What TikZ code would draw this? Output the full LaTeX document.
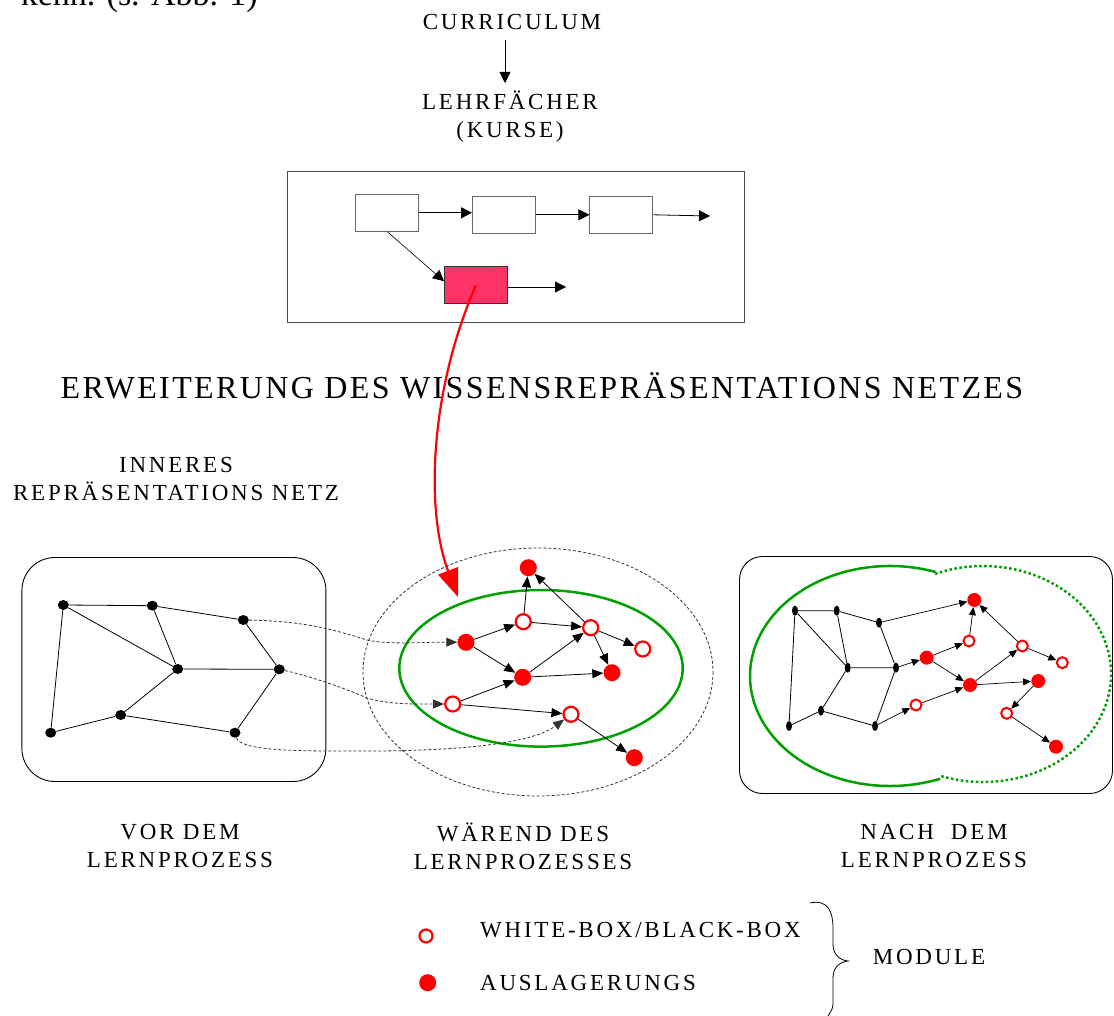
\documentclass[tikz,border=0pt]{standalone}
\usepackage{fontspec}
\setmainfont{Liberation Serif}
\newfontfamily\spacedfont[LetterSpace=12]{Liberation Serif}
\newfontfamily\headfont[LetterSpace=7.5]{Liberation Serif}
\usetikzlibrary{arrows.meta,shapes.geometric}
\definecolor{pinkbox}{HTML}{FF3366}
\definecolor{netgreen}{HTML}{00A000}
\definecolor{netred}{HTML}{FF0000}
\definecolor{dgray}{HTML}{333333}
\begin{document}
\begin{tikzpicture}[x=1pt,y=-1pt,
  lbl/.style={font=\spacedfont\fontsize{23}{28}\selectfont, inner sep=0pt, align=center},
  headlbl/.style={font=\headfont\fontsize{32}{38}\selectfont, inner sep=0pt},
  thinline/.style={line width=0.8pt},
  arrbig/.style={-{Triangle[length=11pt,width=11pt]}, line width=0.8pt},
  arrmid/.style={-{Triangle[length=11pt,width=9pt]}, line width=0.8pt},
  arrsm/.style={-{Triangle[length=8pt,width=7pt]}, line width=0.7pt},
  bdot/.style={ellipse, fill=black, minimum width=11pt, minimum height=10pt, inner sep=0pt},
  bdotn/.style={ellipse, fill=black, minimum width=6pt, minimum height=10pt, inner sep=0pt},
  fdot/.style={circle, fill=netred, minimum size=17pt, inner sep=0pt},
  odot/.style={circle, draw=netred, line width=2.2pt, fill=white, minimum size=15pt, inner sep=0pt},
  fdots/.style={circle, fill=netred, minimum size=14pt, inner sep=0pt},
  odots/.style={circle, draw=netred, line width=2pt, fill=white, minimum size=11pt, inner sep=0pt},
  dconn/.style={dgray, line width=0.8pt, dash pattern=on 3pt off 2pt},
  cbox/.style={draw=black!60, line width=1pt, fill=white, minimum width=63pt, minimum height=37pt, inner sep=0pt},
  dtip/.style={-{Triangle[length=11pt,width=9pt]}}
]
\useasboundingbox (0,0) rectangle (1114,1016);

% cut-off line of preceding text
\node[anchor=base east, font=\fontsize{34}{40}\selectfont, inner sep=0pt] (prev) at (258,6) {kenn. (s. Abb. 1)};

% top part
\node[lbl] (cur) at (512,22) {CURRICULUM};
\coordinate (ca) at (505,40);
\coordinate (cb) at (505,83);
\draw[arrbig] (ca) -- (cb);
\node[lbl] (lehr) at (510,117) {LEHRFÄCHER\\(KURSE)};

\node[draw=black!70, line width=1pt, minimum width=457pt, minimum height=151pt, inner sep=0pt] (frame) at (515.5,247.5) {};
\node[cbox] (k1) at (387.4,212.8) {};
\node[cbox] (k2) at (504,214.8) {};
\node[cbox] (k3) at (621.4,214.8) {};
\node[cbox, fill=pinkbox, draw=black!80] (k4) at (476,285.2) {};
\coordinate (k3e) at (710,216);
\coordinate (k4e) at (566,287);
\draw[arrbig] (k1.east) -- (k1.east -| k2.west);
\draw[arrbig] (k2.east) -- (k2.east -| k3.west);
\draw[arrbig] (k3.east) -- (k3e);
\draw[arrbig] (k4.east |- k4e) -- (k4e);
\draw[arrbig, line width=0.6pt] (k1.south) -- ([yshift=4pt]k4.west);

% heading
\node[headlbl, anchor=base] (head) at (542,398) {ERWEITERUNG DES WISSENSREPRÄSENTATIONS NETZES};

% red arrow
\coordinate (redtip) at (458,597);
\draw[netred, line width=2.2pt, -{Triangle[length=28pt,width=21pt]}] (k4.center) .. controls (430,390) and (425,510) .. (redtip);

\node[lbl] (inner) at (176,479) {INNERES\\REPRÄSENTATIONS NETZ};

% left network
\node[draw, line width=0.9pt, rounded corners=33pt, minimum width=304pt, minimum height=224pt, inner sep=0pt] (lbox) at (173.9,669.5) {};
\node[bdot] (A) at (63.3,605) {};
\node[bdot] (B) at (152.3,605.7) {};
\node[bdot] (C) at (243.3,620) {};
\node[bdot] (D) at (177.7,669) {};
\node[bdot] (E) at (279.3,669.3) {};
\node[bdot] (F) at (120.7,715) {};
\node[bdot] (G) at (50.7,732.7) {};
\node[bdot] (H) at (235,732.7) {};
\draw[thinline] (A)--(B) (A)--(D) (A)--(G) (B)--(D) (B)--(C) (C)--(E) (D)--(E) (D)--(F) (F)--(G) (F)--(H) (H)--(E);

% middle network
\draw[dconn] (538,672) ellipse [x radius=175, y radius=124];
\draw[netgreen, line width=2.5pt] (541,668.3) ellipse [x radius=141.7, y radius=78.3];
\node[fdot] (m1) at (528.3,567.7) {};
\node[odot] (m2) at (523.3,621.7) {};
\node[odot] (m3) at (590.7,627.7) {};
\node[fdot] (m4) at (466,642.3) {};
\node[odot] (m5) at (642.7,649) {};
\node[fdot] (m6) at (522.7,677.3) {};
\node[fdot] (m7) at (612,672.7) {};
\node[odot] (m8) at (452.7,704) {};
\node[odot] (m9) at (571,714.3) {};
\node[fdot] (m10) at (634.3,757.7) {};
\draw[arrmid] (m2)--(m1);
\draw[arrmid] (m3)--(m1);
\draw[arrmid] (m4)--(m2);
\draw[arrmid] (m2)--(m3);
\draw[arrmid] (m4)--(m6);
\draw[arrmid] (m6)--(m3);
\draw[arrmid] (m3)--(m5);
\draw[arrmid] (m3)--(m7);
\draw[arrmid] (m6)--(m7);
\draw[arrmid] (m8)--(m6);
\draw[arrmid] (m8)--(m9);
\draw[arrmid] (m9)--(m10);

\draw[dconn, dtip] (C) .. controls (305,621) and (335,630) .. (367,640) .. controls (390,645) and (420,642) .. (m4);
\draw[dconn, dtip] (E) .. controls (305,675) and (340,686) .. (367,698) .. controls (390,705) and (420,704) .. (m8);
\draw[dconn, dtip] (H) .. controls (240,750) and (290,751) .. (340,751) .. controls (450,752) and (530,745) .. (m9);

% right network
\node[draw, line width=0.9pt, rounded corners=23pt, minimum width=373pt, minimum height=237pt, inner sep=0pt] (rbox) at (926,675) {};
\draw[netgreen, line width=2.5pt] (935.6,572) arc[start angle=-71, end angle=-291, x radius=140, y radius=110];
\draw[netgreen, line width=2.5pt, dash pattern=on 2.5pt off 2.5pt] (935.1,573.9) arc[start angle=-112, end angle=110, x radius=128, y radius=108];

\node[bdotn] (r1) at (795,610.7) {};
\node[bdotn] (r2) at (836.7,610.7) {};
\node[bdotn] (r3) at (879,622.7) {};
\node[bdotn] (r4) at (847.7,667.7) {};
\node[bdotn] (r5) at (896,667.7) {};
\node[bdotn] (r6) at (821,710.7) {};
\node[bdotn] (r7) at (789,726) {};
\node[bdotn] (r8) at (875,726) {};
\draw[thinline] (r1)--(r2) (r1)--(r4) (r1)--(r7) (r2)--(r4) (r2)--(r3) (r3)--(r5) (r4)--(r5) (r4)--(r6) (r6)--(r7) (r6)--(r8) (r8)--(r5);

\node[fdots] (q1) at (974.3,600) {};
\node[odots] (q2) at (969,641) {};
\node[fdots] (q3) at (926.7,657.7) {};
\node[odots] (q4) at (1022.3,646) {};
\node[odots] (q5) at (1062.3,662.7) {};
\node[fdots] (q6) at (970,685) {};
\node[fdots] (q7) at (1038.3,681) {};
\node[odots] (q8) at (916,705) {};
\node[odots] (q9) at (1006.7,713.3) {};
\node[fdots] (q10) at (1056,746.7) {};
\draw[arrsm] (r3)--(q1);
\draw[arrsm] (q2)--(q1);
\draw[arrsm] (q4)--(q1);
\draw[arrsm] (r5)--(q3);
\draw[arrsm] (q3)--(q2);
\draw[arrsm] (q3)--(q6);
\draw[arrsm] (q6)--(q4);
\draw[arrsm] (q4)--(q5);
\draw[arrsm] (q6)--(q7);
\draw[arrsm] (r8)--(q8);
\draw[arrsm] (q8)--(q6);
\draw[arrsm] (q7)--(q9);
\draw[arrsm] (q9)--(q10);

% captions
\node[lbl] (vor) at (180,846) {VOR DEM\\LERNPROZESS};
\node[lbl] (waer) at (523,846) {WÄREND DES\\LERNPROZESSES};
\node[lbl] (nach) at (934,846) {NACH\ \ DEM\\LERNPROZESS};

% legend
\node[odot, minimum size=13pt] (lo) at (426,936) {};
\node[fdot] (lf) at (427.7,982.7) {};
\node[lbl, anchor=west] (lot) at (480,930) {WHITE-BOX/BLACK-BOX};
\node[lbl, anchor=west] (lft) at (480,983) {AUSLAGERUNGS};
\draw[line width=0.8pt] (810,903) .. controls (828,899) and (833,912) .. (833,928) -- (833,944) .. controls (833,954) and (839,960) .. (848,961) .. controls (839,962) and (833,968) .. (833,978) -- (833,1000) .. controls (833,1008) .. (828,1016);
\node[lbl] (mod) at (929,957) {MODULE};
\end{tikzpicture}
\end{document}
